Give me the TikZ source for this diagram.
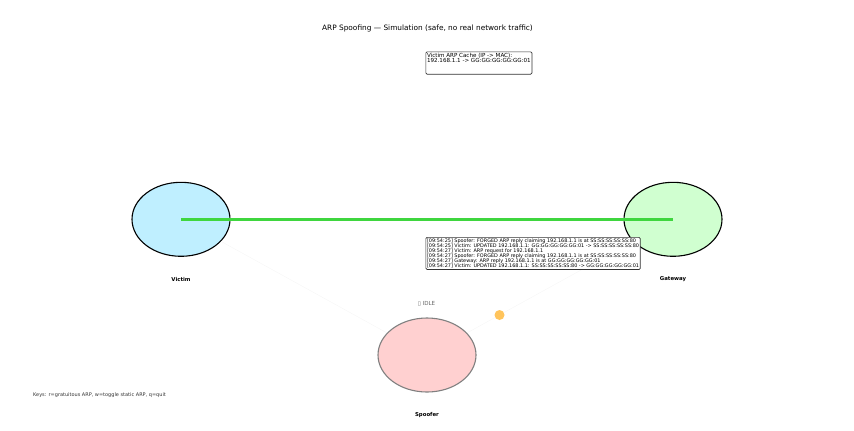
\documentclass[tikz,border=0pt]{standalone}
\usepackage{fontspec}
\setmainfont{DejaVu Sans}
\usetikzlibrary{shapes.geometric}
\definecolor{victimblue}{HTML}{BFEFFF}
\definecolor{gatewaygreen}{HTML}{D0FFD0}
\definecolor{spooferred}{HTML}{FFD0D0}
\definecolor{linkgreen}{HTML}{3FD63F}
\definecolor{packetorange}{HTML}{FFC45C}
\tikzset{
  host/.style={ellipse,draw=black,line width=1.1bp,minimum width=98bp,minimum height=74bp,inner sep=0pt},
  hostname/.style={font=\fontsize{5.4}{6}\selectfont\bfseries},
  infobox/.style={draw=black!80,rounded corners=1.2bp,line width=0.7bp,fill=white,align=left,inner sep=1.2bp},
  faintpath/.style={black!3,line width=0.5bp},
}
\begin{document}
\begin{tikzpicture}[x=1bp,y=-1bp]
\useasboundingbox (0,0) rectangle (854,430);
\node[font=\fontsize{7.4}{8}\selectfont] (title) at (427.5,28.5) {ARP Spoofing — Simulation (safe, no real network traffic)};

\node[host,fill=victimblue] (victim) at (181,219.3) {};
\node[host,fill=gatewaygreen] (gateway) at (673,219.3) {};
\node[host,fill=spooferred,draw=black!50] (spoofer) at (427,355) {};

\node[hostname] (victimname) at (181,279) {Victim};
\node[hostname] (gatewayname) at (673,279) {Gateway};
\node[hostname] (spoofername) at (427,415) {Spoofer};

% faint arp paths
\draw[faintpath] (spoofer) -- (victim);
\draw[faintpath] (spoofer) -- (gateway);

\draw[linkgreen,line width=3.2bp] (victim.center) -- (gateway.center);

\node[circle,fill=packetorange,minimum size=10bp,inner sep=0pt] (packet) at (499.5,315) {};

\node[infobox,anchor=north west,font=\fontsize{5.6}{5.6}\selectfont] (cache) at (425.5,51.5) {Victim ARP Cache (IP -> MAC):\\192.168.1.1 -> GG:GG:GG:GG:GG:01\\[4.5bp]\mbox{}};

\node[infobox,anchor=north west,font=\fontsize{4.93}{5.1}\selectfont] (eventlog) at (425.5,237) {{[}09:54:25] Spoofer: FORGED ARP reply claiming 192.168.1.1 is at SS:SS:SS:SS:SS:80\\
{[}09:54:25] Victim: UPDATED 192.168.1.1: GG:GG:GG:GG:GG:01 -> SS:SS:SS:SS:SS:80\\
{[}09:54:27] Victim: ARP request for 192.168.1.1\\
{[}09:54:27] Spoofer: FORGED ARP reply claiming 192.168.1.1 is at SS:SS:SS:SS:SS:80\\
{[}09:54:27] Gateway: ARP reply 192.168.1.1 is at GG:GG:GG:GG:GG:01\\
{[}09:54:27] Victim: UPDATED 192.168.1.1: SS:SS:SS:SS:SS:80 -> GG:GG:GG:GG:GG:01};

\node[font=\fontsize{5.6}{6}\selectfont,text=black!60] (status) at (426.5,303.5) {▯ IDLE};
\node[anchor=west,font=\fontsize{5}{6}\selectfont,text=black!80,inner sep=0pt] (keys) at (33,395) {Keys: r=gratuitous ARP, w=toggle static ARP, q=quit};
\end{tikzpicture}
\end{document}
